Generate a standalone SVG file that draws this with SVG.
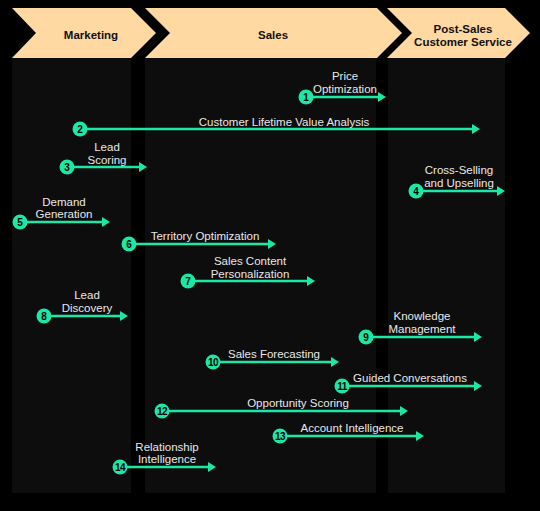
<svg xmlns="http://www.w3.org/2000/svg" width="540" height="511" viewBox="0 0 540 511">
<style>
.panel{fill:#0d0d0d}
.hdr{fill:#ffd9a1}
.htxt{font-family:"Liberation Sans",Arial,sans-serif;font-weight:bold;font-size:11.5px;fill:#111;text-anchor:middle}
.lbl{font-family:"Liberation Sans",Arial,sans-serif;font-size:11.5px;fill:#e8e8e8;text-anchor:middle}
.num{font-family:"Liberation Sans",Arial,sans-serif;font-weight:bold;font-size:10px;fill:#000;text-anchor:middle}
.dot{fill:#1ce8a6}
.arr{stroke:#1ce8a6;stroke-width:2.6;fill:none;marker-end:url(#ah)}
</style>
<defs>
<marker id="ah" viewBox="0 0 8 10" refX="5" refY="5" markerWidth="8" markerHeight="10" markerUnits="userSpaceOnUse" orient="auto">
<path d="M0,0 L8,5 L0,10 Z" fill="#1ce8a6"/>
</marker>
</defs>
<rect width="540" height="511" fill="#000"/>
<g id="panels">
<rect class="panel" x="12" y="56" width="119" height="437"/>
<rect class="panel" x="145" y="56" width="231" height="437"/>
<rect class="panel" x="388" y="56" width="117" height="437"/>
</g>
<g id="phase-marketing">
<polygon class="hdr" points="12,8 131,8 156,33 131,58 12,58 36,33"/>
<text class="htxt" x="91" y="39">Marketing</text>
</g>
<g id="phase-sales">
<polygon class="hdr" points="145,8 377,8 402,33 377,58 145,58 170,33"/>
<text class="htxt" x="273" y="39">Sales</text>
</g>
<g id="phase-postsales">
<polygon class="hdr" points="387,8 505,8 530,33 505,58 387,58 412,33"/>
<text class="htxt" x="463" y="33">Post-Sales</text>
<text class="htxt" x="463" y="46">Customer Service</text>
</g>
<g id="connectors">
<line class="arr" x1="306" y1="97" x2="383" y2="97"/>
<line class="arr" x1="80" y1="129" x2="477" y2="129"/>
<line class="arr" x1="67" y1="167" x2="144" y2="167"/>
<line class="arr" x1="416" y1="191" x2="502" y2="191"/>
<line class="arr" x1="20" y1="222" x2="107" y2="222"/>
<line class="arr" x1="129" y1="244" x2="273" y2="244"/>
<line class="arr" x1="188" y1="281" x2="312" y2="281"/>
<line class="arr" x1="44" y1="316" x2="125" y2="316"/>
<line class="arr" x1="366" y1="337" x2="479" y2="337"/>
<line class="arr" x1="213" y1="362" x2="336" y2="362"/>
<line class="arr" x1="342" y1="386" x2="479" y2="386"/>
<line class="arr" x1="162" y1="411" x2="405" y2="411"/>
<line class="arr" x1="280" y1="436" x2="421" y2="436"/>
<line class="arr" x1="120" y1="467" x2="213" y2="467"/>
</g>
<g id="n1"><circle class="dot" cx="306" cy="97" r="7.5"/><text class="num" x="306" y="100.5">1</text>
<text class="lbl" x="345" y="80">Price</text><text class="lbl" x="345" y="92.5">Optimization</text></g>
<g id="n2"><circle class="dot" cx="80" cy="129" r="7.5"/><text class="num" x="80" y="132.5">2</text>
<text class="lbl" x="284" y="126">Customer Lifetime Value Analysis</text></g>
<g id="n3"><circle class="dot" cx="67" cy="167" r="7.5"/><text class="num" x="67" y="170.5">3</text>
<text class="lbl" x="107" y="151">Lead</text><text class="lbl" x="107" y="163.5">Scoring</text></g>
<g id="n4"><circle class="dot" cx="416" cy="191" r="7.5"/><text class="num" x="416" y="194.5">4</text>
<text class="lbl" x="459" y="174">Cross-Selling</text><text class="lbl" x="459" y="186.5">and Upselling</text></g>
<g id="n5"><circle class="dot" cx="20" cy="222" r="7.5"/><text class="num" x="20" y="225.5">5</text>
<text class="lbl" x="64" y="205.5">Demand</text><text class="lbl" x="64" y="218">Generation</text></g>
<g id="n6"><circle class="dot" cx="129" cy="244" r="7.5"/><text class="num" x="129" y="247.5">6</text>
<text class="lbl" x="205" y="240">Territory Optimization</text></g>
<g id="n7"><circle class="dot" cx="188" cy="281" r="7.5"/><text class="num" x="188" y="284.5">7</text>
<text class="lbl" x="250" y="265">Sales Content</text><text class="lbl" x="250" y="277.5">Personalization</text></g>
<g id="n8"><circle class="dot" cx="44" cy="316" r="7.5"/><text class="num" x="44" y="319.5">8</text>
<text class="lbl" x="87" y="299">Lead</text><text class="lbl" x="87" y="311.5">Discovery</text></g>
<g id="n9"><circle class="dot" cx="366" cy="337" r="7.5"/><text class="num" x="366" y="340.5">9</text>
<text class="lbl" x="422" y="320">Knowledge</text><text class="lbl" x="422" y="332.5">Management</text></g>
<g id="n10"><circle class="dot" cx="213" cy="362" r="7.5"/><text class="num" x="213" y="365.5" letter-spacing="-0.6">10</text>
<text class="lbl" x="274" y="358">Sales Forecasting</text></g>
<g id="n11"><circle class="dot" cx="342" cy="386" r="7.5"/><text class="num" x="342" y="389.5" letter-spacing="-0.6">11</text>
<text class="lbl" x="410" y="382">Guided Conversations</text></g>
<g id="n12"><circle class="dot" cx="162" cy="411" r="7.5"/><text class="num" x="162" y="414.5" letter-spacing="-0.6">12</text>
<text class="lbl" x="298" y="407">Opportunity Scoring</text></g>
<g id="n13"><circle class="dot" cx="280" cy="436" r="7.5"/><text class="num" x="280" y="439.5" letter-spacing="-0.6">13</text>
<text class="lbl" x="352" y="432">Account Intelligence</text></g>
<g id="n14"><circle class="dot" cx="120" cy="467" r="7.5"/><text class="num" x="120" y="470.5" letter-spacing="-0.6">14</text>
<text class="lbl" x="167" y="450.5">Relationship</text><text class="lbl" x="167" y="463">Intelligence</text></g>
</svg>
